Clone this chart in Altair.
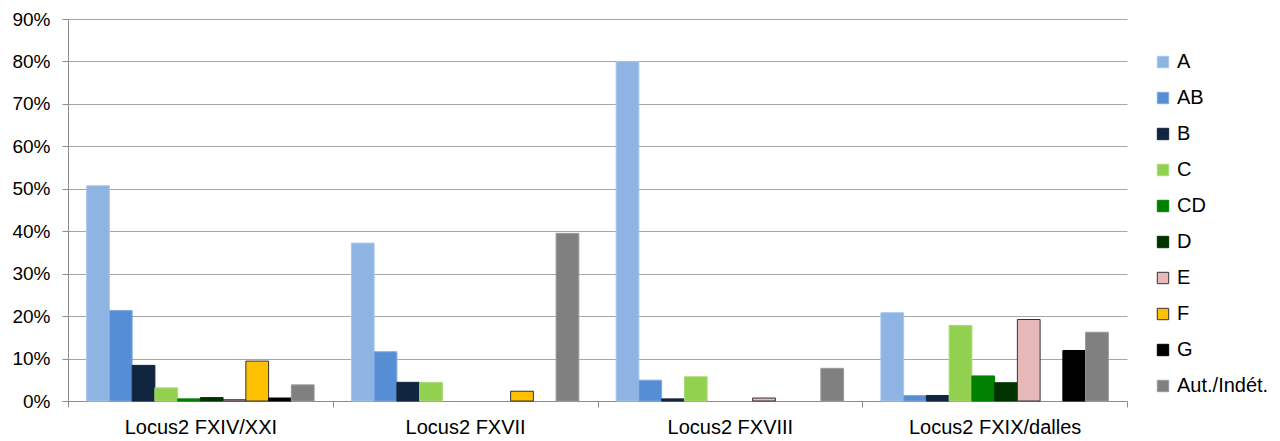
import altair as alt
import pandas as pd

groups = ["Locus2 FXIV/XXI", "Locus2 FXVII", "Locus2 FXVIII", "Locus2 FXIX/dalles"]
series = ["A", "AB", "B", "C", "CD", "D", "E", "F", "G", "Aut./Indét."]
colors = ["#8EB4E3", "#558ED5", "#10253F", "#92D050", "#008000", "#003300",
          "#E6B9B8", "#FFC000", "#000000", "#808080"]
strokes = ["#A9C6EB", "#7FA9DF", "#10253F", "#A8DA78", "#008000", "#003300",
           "#333333", "#333333", "#000000", "#999999"]

vals_A = [0.507, 0.372, 0.800, 0.208]
vals_AB = [0.213, 0.116, 0.049, 0.013]
vals_B = [0.084, 0.044, 0.005, 0.013]
vals_C = [0.031, 0.044, 0.057, 0.178]
vals_CD = [0.005, 0.0, 0.0, 0.059]
vals_D = [0.008, 0.0, 0.0, 0.043]
vals_E = [0.003, 0.0, 0.007, 0.192]
vals_F = [0.094, 0.023, 0.0, 0.0]
vals_G = [0.007, 0.0, 0.0, 0.119]
vals_Aut = [0.038, 0.395, 0.077, 0.162]

all_vals = [vals_A, vals_AB, vals_B, vals_C, vals_CD, vals_D, vals_E, vals_F, vals_G, vals_Aut]

rows = []
for s, vals in zip(series, all_vals):
    for g, v in zip(groups, vals):
        if v > 0:
            rows.append({"group": g, "series": s, "value": v})
df = pd.DataFrame(rows)

FONT = "Liberation Sans"

chart = alt.Chart(df).mark_bar(strokeWidth=1).encode(
    x=alt.X("group:N", sort=groups, title=None,
            scale=alt.Scale(domain=groups, paddingInner=0, paddingOuter=0),
            axis=alt.Axis(labelAngle=0, tickBand="extent", tickSize=6,
                          labelPadding=26, labelBaseline="alphabetic",
                          labelFontSize=20, labelFont=FONT,
                          labelColor="#000000", domainColor="#8C8C8C",
                          tickColor="#8C8C8C", grid=False)),
    xOffset=alt.XOffset("series:N", sort=series,
                        scale=alt.Scale(domain=series, paddingInner=0, paddingOuter=0.82)),
    y=alt.Y("value:Q", title=None,
            scale=alt.Scale(domain=[0, 0.9], nice=False),
            axis=alt.Axis(format=".0%", values=[i / 10 for i in range(10)],
                          tickSize=6, labelPadding=12, labelFontSize=19,
                          labelFont=FONT, labelColor="#000000",
                          domainColor="#8C8C8C", tickColor="#8C8C8C",
                          gridColor="#A6A6A6", gridWidth=1)),
    color=alt.Color("series:N", sort=series,
                    scale=alt.Scale(domain=series, range=colors),
                    legend=alt.Legend(title=None, orient="none", legendX=1085,
                                      legendY=33, symbolType="square",
                                      symbolSize=130, labelFontSize=20,
                                      labelFont=FONT, labelColor="#000000",
                                      rowPadding=16, labelOffset=4,
                                      symbolStrokeWidth=1)),
    stroke=alt.Stroke("series:N", sort=series,
                      scale=alt.Scale(domain=series, range=strokes),
                      legend=None),
).properties(
    width=1059,
    height=382,
    autosize=alt.AutoSizeParams(type="none"),
    padding={"left": 60, "top": 11, "right": 145, "bottom": 40},
).configure_view(strokeWidth=0)

chart.save("out.html", embed_options={"renderer": "svg", "actions": False})
